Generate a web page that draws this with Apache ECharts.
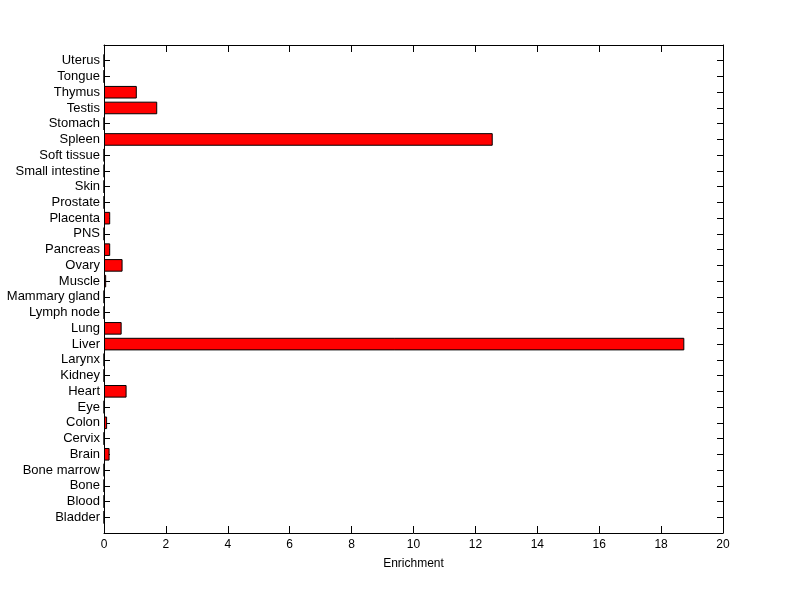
<!DOCTYPE html>
<html>
<head>
<meta charset="utf-8">
<script src="https://cdn.jsdelivr.net/npm/echarts@6/dist/echarts.min.js"></script>
<style>html,body{margin:0;padding:0;background:#fff;}#c{width:800px;height:599px;}</style>
</head>
<body>
<div id="c"></div>
<script>
const categories = ['Bladder','Blood','Bone','Bone marrow','Brain','Cervix','Colon','Eye','Heart','Kidney','Larynx','Liver','Lung','Lymph node','Mammary gland','Muscle','Ovary','Pancreas','PNS','Placenta','Prostate','Skin','Small intestine','Soft tissue','Spleen','Stomach','Testis','Thymus','Tongue','Uterus'];
const values = [0,0,0,0,0.18,0,0.1,0,0.73,0,0,18.75,0.57,0,0,0.07,0.6,0.2,0,0.2,0,0,0,0,12.56,0,1.72,1.06,0,0];
const xTicks = [0,2,4,6,8,10,12,14,16,18,20];

const yCats = [''].concat(categories, ['']);
const yData = ['-'].concat(values, ['-']);
const font = 'Liberation Sans, Arial, sans-serif';
const chart = echarts.init(document.getElementById('c'), null, {renderer:'canvas'});
const lineStyle = {color:'#000', width:1};
chart.setOption({
  animation:false,
  backgroundColor:'#fff',
  grid:{left:104, right:77, top:45, bottom:66, containLabel:false},
  xAxis:[{
    type:'value', min:xTicks[0], max:xTicks[xTicks.length-1], interval:2, position:'bottom',
    axisLine:{show:true, lineStyle:lineStyle},
    axisTick:{show:true, inside:true, length:7, lineStyle:lineStyle},
    axisLabel:{color:'#000', fontFamily:font, fontSize:12, margin:6},
    splitLine:{show:false},
    name:'Enrichment', nameLocation:'middle', nameGap:25,
    nameTextStyle:{color:'#000', fontFamily:font, fontSize:12}
  },{
    type:'value', min:xTicks[0], max:xTicks[xTicks.length-1], interval:2, position:'top',
    axisLine:{show:true, lineStyle:lineStyle},
    axisTick:{show:true, inside:true, length:7, lineStyle:lineStyle},
    axisLabel:{show:false}, splitLine:{show:false}
  }],
  yAxis:[{
    type:'category', data:yCats, boundaryGap:false, position:'left',
    axisLine:{show:true, onZero:false, lineStyle:lineStyle},
    axisTick:{show:true, inside:true, length:6, interval:0, lineStyle:lineStyle},
    axisLabel:{color:'#000', fontFamily:font, fontSize:13, interval:0, margin:4, padding:[2,0,0,0]},
    splitLine:{show:false}
  },{
    type:'category', data:yCats, boundaryGap:false, position:'right',
    axisLine:{show:true, onZero:false, lineStyle:lineStyle},
    axisTick:{show:true, inside:true, length:6, interval:0, lineStyle:lineStyle},
    axisLabel:{show:false}, splitLine:{show:false}
  }],
  series:[{
    type:'bar', xAxisIndex:0, yAxisIndex:0, data:yData, barWidth:'80%',
    itemStyle:{color:'#ff0000', borderColor:'#000', borderWidth:1},
    emphasis:{disabled:true}
  }]
});
</script>
</body>
</html>
